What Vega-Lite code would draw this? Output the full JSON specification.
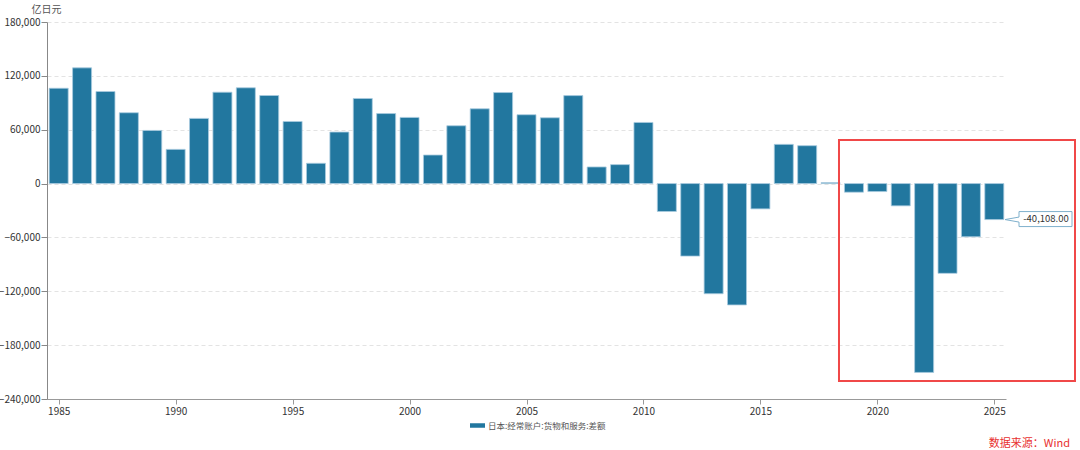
{
  "$schema": "https://vega.github.io/schema/vega-lite/v6.json",
  "width": 959,
  "height": 377,
  "autosize": {"type": "none"},
  "padding": {"left": 47, "top": 22, "right": 74, "bottom": 51},
  "background": "white",
  "config": {
    "view": {"stroke": null},
    "font": "Noto Sans CJK SC"
  },
  "title": {
    "text": "数据来源：Wind",
    "orient": "bottom",
    "anchor": "end",
    "frame": "group",
    "align": "right",
    "color": "#e8302f",
    "fontSize": 11,
    "fontWeight": "normal",
    "dx": 64,
    "offset": 8
  },
  "layer": [
    {
      "data": {
        "values": [
          {"year": 1985, "value": 106200},
          {"year": 1986, "value": 128900},
          {"year": 1987, "value": 102600},
          {"year": 1988, "value": 78900},
          {"year": 1989, "value": 59200},
          {"year": 1990, "value": 38100},
          {"year": 1991, "value": 72600},
          {"year": 1992, "value": 101800},
          {"year": 1993, "value": 106700},
          {"year": 1994, "value": 98100},
          {"year": 1995, "value": 69200},
          {"year": 1996, "value": 22600},
          {"year": 1997, "value": 57400},
          {"year": 1998, "value": 94800},
          {"year": 1999, "value": 78000},
          {"year": 2000, "value": 73700},
          {"year": 2001, "value": 31800},
          {"year": 2002, "value": 64400},
          {"year": 2003, "value": 83300},
          {"year": 2004, "value": 101400},
          {"year": 2005, "value": 76700},
          {"year": 2006, "value": 73300},
          {"year": 2007, "value": 98000},
          {"year": 2008, "value": 18500},
          {"year": 2009, "value": 21100},
          {"year": 2010, "value": 68100},
          {"year": 2011, "value": -31100},
          {"year": 2012, "value": -80800},
          {"year": 2013, "value": -122700},
          {"year": 2014, "value": -135200},
          {"year": 2015, "value": -28200},
          {"year": 2016, "value": 43700},
          {"year": 2017, "value": 42200},
          {"year": 2018, "value": 1052},
          {"year": 2019, "value": -9600},
          {"year": 2020, "value": -8900},
          {"year": 2021, "value": -24800},
          {"year": 2022, "value": -210400},
          {"year": 2023, "value": -100000},
          {"year": 2024, "value": -59300},
          {"year": 2025, "value": -40108}
        ]
      },
      "mark": {"type": "bar", "width": 19, "stroke": "#a9cbe0", "strokeWidth": 0.8},
      "encoding": {
        "x": {
          "field": "year",
          "type": "quantitative",
          "scale": {"domain": [1984.5, 2025.5], "nice": false, "zero": false, "padding": 0},
          "axis": {
            "title": null,
            "values": [1985, 1990, 1995, 2000, 2005, 2010, 2015, 2020, 2025],
            "format": "d",
            "grid": false,
            "domainColor": "#999999",
            "tickColor": "#999999",
            "tickSize": 5,
            "labelFontSize": 10,
            "labelColor": "#333333",
            "labelPadding": 2
          }
        },
        "y": {
          "field": "value",
          "type": "quantitative",
          "scale": {"domain": [-240000, 180000], "nice": false},
          "axis": {
            "values": [-240000, -180000, -120000, -60000, 0, 60000, 120000, 180000],
            "format": ",d",
            "title": "亿日元",
            "titleAngle": 0,
            "titleX": -1,
            "titleY": -13,
            "titleAlign": "center",
            "titleBaseline": "middle",
            "titleFontSize": 10,
            "titleFontWeight": "normal",
            "titleColor": "#555555",
            "domainColor": "#888888",
            "tickColor": "#888888",
            "tickSize": 6,
            "labelFontSize": 10,
            "labelColor": "#333333",
            "labelPadding": 1,
            "grid": true,
            "gridColor": "#e3e3e3",
            "gridDash": [4, 3]
          }
        },
        "color": {
          "datum": "日本:经常账户:货物和服务:差额",
          "type": "nominal",
          "scale": {"range": ["#22779f"]},
          "legend": {
            "title": null,
            "orient": "none",
            "legendX": 423,
            "legendY": 396,
            "direction": "horizontal",
            "symbolType": "M -1 -0.3 L 1 -0.3 L 1 0.3 L -1 0.3 Z",
            "symbolSize": 225,
            "symbolStrokeWidth": 0,
            "labelFontSize": 8.5,
            "labelColor": "#555555",
            "labelOffset": 3
          }
        }
      }
    },
    {
      "data": {"values": [{"note": "highlight"}]},
      "mark": {"type": "rect", "fill": null, "stroke": "#f04848", "strokeWidth": 2},
      "encoding": {
        "x": {"datum": 2018.36, "type": "quantitative"},
        "x2": {"datum": 2028.45},
        "y": {"datum": 48600, "type": "quantitative"},
        "y2": {"datum": -219900}
      }
    },
    {
      "data": {"values": [{"note": "callout"}]},
      "mark": {
        "type": "point",
        "shape": "M 1.07 0 L 2.47 -0.25 L 2.47 -0.8 L 7.77 -0.8 L 7.77 0.7 L 2.47 0.7 L 2.47 0.25 Z",
        "size": 400,
        "filled": true,
        "fill": "white",
        "stroke": "#7fb0cc",
        "strokeWidth": 1,
        "opacity": 1
      },
      "encoding": {
        "x": {"datum": 2025, "type": "quantitative"},
        "y": {"datum": -40108, "type": "quantitative"}
      }
    },
    {
      "data": {"values": [{"label": "-40,108.00"}]},
      "mark": {"type": "text", "align": "left", "baseline": "middle", "dx": 29, "dy": -1, "fontSize": 9.5, "fill": "#333333"},
      "encoding": {
        "x": {"datum": 2025, "type": "quantitative"},
        "y": {"datum": -40108, "type": "quantitative"},
        "text": {"field": "label"}
      }
    }
  ]
}
